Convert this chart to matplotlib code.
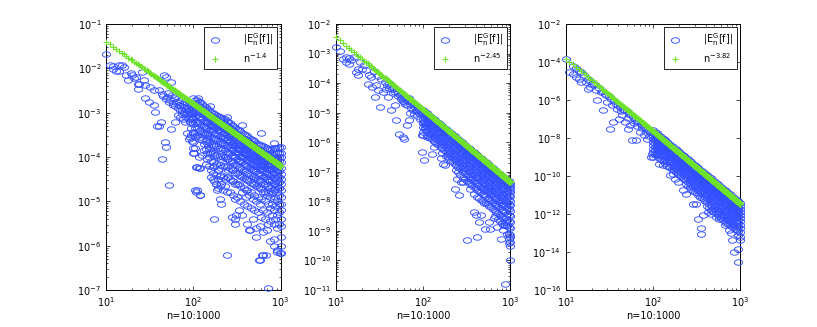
import numpy as np
import matplotlib
matplotlib.use("Agg")
import matplotlib.pyplot as plt
from matplotlib.path import Path
from matplotlib.markers import MarkerStyle
from matplotlib.ticker import LogLocator, NullLocator, FixedLocator, LogFormatterSciNotation

# ---------------- data ----------------
n_first, n_last = 10, 1000
rates = [1.4, 2.45, 3.82]
rate_labels = [r'$n^{-1.4}$', r'$n^{-2.45}$', r'$n^{-3.82}$']
err_label = r'$|E_n^G[f]|$'
xlabel = 'n=10:1000'
ylims = [(1e-7, 1e-1), (1e-11, 1e-2), (1e-16, 1e-2)]

# Panel 1: scattered points (n, log10 |E|)
p1_n = [10, 11, 12, 12, 13, 14, 14, 15, 16, 17, 18, 19, 20, 21, 22, 23, 23, 24, 26, 27, 28, 28,
        31, 32, 35, 35, 36, 38, 40, 40, 42, 44, 44, 46, 47, 48, 48, 50, 52, 53, 56, 56, 59, 61,
        66, 70, 74, 77, 81, 83, 87, 91, 95, 98, 102, 105,
        45, 49, 51, 54, 57, 58, 60, 62, 63, 64, 67, 68, 69, 71, 72, 73, 75, 76, 78, 79, 80, 82,
        84, 85, 86, 88, 89, 90, 92, 93, 94, 96, 97, 99,
        85, 88, 92, 95, 93, 94, 96, 100, 158, 148, 145, 148, 155,
        107, 115, 108, 118, 166, 170, 180, 185, 200, 210, 240, 300, 310, 410, 445, 560, 610,
        680, 725, 850, 900, 980,
        112, 155, 240, 363, 600, 850]
p1_e = [-1.68, -1.92, -2.01, -1.95, -2.05, -1.93, -2.05, -1.92, -1.97, -2.16, -2.27, -2.10,
        -2.14, -2.22, -2.20, -2.46, -2.35, -2.35, -2.08, -2.27, -2.67, -2.38,
        -2.76, -2.42, -2.83, -2.49, -2.98, -3.29, -3.30, -2.49, -3.21, -4.04, -2.57, -2.16,
        -3.66, -3.77, -2.20, -2.65, -4.64, -2.76, -2.31, -3.36, -2.83, -3.21,
        -3.06, -2.95, -3.02, -3.14, -3.21, -2.92, -3.06, -3.21, -3.02, -3.44, -3.92, -4.75,
        -2.62, -2.70, -2.55, -2.72, -2.60, -2.78, -2.68, -2.85, -2.75, -2.62, -2.90, -2.75,
        -2.82, -3.10, -2.85, -2.72, -2.95, -2.80, -2.88, -3.00, -2.75, -3.10,
        -2.85, -3.00, -2.90, -2.80, -3.15, -2.95, -3.00, -2.85, -3.10, -2.90, -3.15, -2.95,
        -3.45, -3.60, -3.55, -3.20, -3.35, -3.50, -3.65, -3.80, -3.30, -3.45, -3.60, -3.75, -3.90,
        -4.23, -4.25, -4.78, -4.86, -4.23, -4.50, -4.60, -4.75, -4.95, -5.05, -6.20, -5.40,
        -5.30, -5.50, -5.65, -6.33, -6.20, -6.20, -6.95, -6.00, -6.15, -6.17,
        -2.67, -2.85, -3.09, -3.27, -3.46, -3.69]
# Panel 1: dense region, one column of values per n
p1_col_n = [100, 105, 110, 115, 120, 126, 132, 138, 145, 151, 158, 166, 174, 182, 191, 200,
            209, 219, 229, 240, 251, 263, 275, 288, 302, 316, 331, 347, 363, 380, 398, 417,
            437, 457, 479, 501, 525, 550, 575, 603, 631, 661, 692, 724, 759, 794, 832, 871,
            912, 955, 1000]
p1_col_e = [
    [-2.68, -2.80, -2.90, -3.00, -3.12, -3.25, -3.45, -3.66, -3.92],
    [-2.72, -2.85, -2.96, -3.08, -3.20, -3.35, -3.55, -3.80],
    [-2.72, -2.80, -2.95, -3.05, -3.20, -3.35, -3.50, -4.23, -4.75],
    [-2.75, -2.86, -2.98, -3.10, -3.25, -3.42, -3.60, -4.00],
    [-2.76, -2.88, -3.00, -3.10, -3.22, -3.40, -3.55, -4.25, -4.86],
    [-2.80, -2.92, -3.03, -3.15, -3.28, -3.45, -3.62, -3.95],
    [-2.85, -2.95, -3.05, -3.18, -3.30, -3.45, -3.70, -3.85],
    [-2.88, -2.98, -3.08, -3.20, -3.32, -3.48, -3.65, -3.82, -4.15],
    [-2.92, -3.02, -3.10, -3.22, -3.35, -3.50, -3.68, -3.90, -4.05],
    [-2.95, -3.05, -3.15, -3.26, -3.38, -3.52, -3.66, -3.82, -4.00, -4.20],
    [-2.98, -3.08, -3.15, -3.28, -3.40, -3.55, -3.70, -3.88, -4.10, -4.30, -4.45],
    [-3.00, -3.10, -3.20, -3.30, -3.42, -3.56, -3.72, -3.90, -4.12, -4.35],
    [-3.02, -3.12, -3.22, -3.32, -3.45, -3.60, -3.75, -3.95, -4.20, -4.55, -5.39],
    [-3.05, -3.15, -3.25, -3.35, -3.47, -3.60, -3.76, -3.95, -4.15, -4.40, -4.62],
    [-3.08, -3.18, -3.28, -3.38, -3.50, -3.62, -3.80, -4.00, -4.30, -4.50, -4.70],
    [-3.10, -3.20, -3.30, -3.40, -3.52, -3.65, -3.80, -3.98, -4.18, -4.42, -4.65],
    [-3.12, -3.22, -3.32, -3.42, -3.55, -3.68, -3.85, -4.05, -4.25, -4.40, -4.60],
    [-3.14, -3.24, -3.34, -3.45, -3.56, -3.69, -3.83, -4.00, -4.20, -4.45, -4.75],
    [-3.15, -3.26, -3.36, -3.46, -3.58, -3.70, -3.85, -4.00, -4.20, -4.50, -4.65],
    [-3.18, -3.29, -3.40, -3.50, -3.61, -3.74, -3.88, -4.04, -4.22, -4.45, -4.80],
    [-3.20, -3.32, -3.42, -3.52, -3.62, -3.75, -3.90, -4.05, -4.30, -4.45],
    [-3.24, -3.35, -3.45, -3.55, -3.66, -3.78, -3.92, -4.08, -4.25, -4.50, -4.80],
    [-3.28, -3.38, -3.48, -3.58, -3.70, -3.82, -3.95, -4.10, -4.30, -4.55, -5.35],
    [-3.30, -3.41, -3.51, -3.61, -3.72, -3.84, -3.98, -4.12, -4.30, -4.55, -4.85],
    [-3.34, -3.45, -3.55, -3.65, -3.76, -3.88, -4.00, -4.15, -4.35, -4.60, -4.95, -5.50],
    [-3.36, -3.48, -3.58, -3.68, -3.79, -3.91, -4.04, -4.18, -4.36, -4.60, -4.90],
    [-3.40, -3.52, -3.62, -3.72, -3.82, -3.94, -4.08, -4.22, -4.40, -4.62, -5.20],
    [-3.42, -3.54, -3.64, -3.74, -3.85, -3.97, -4.10, -4.25, -4.42, -4.65, -5.00],
    [-3.45, -3.58, -3.68, -3.78, -3.88, -4.00, -4.12, -4.28, -4.45, -4.80, -5.30],
    [-3.48, -3.60, -3.70, -3.80, -3.91, -4.02, -4.15, -4.30, -4.48, -4.70, -5.05],
    [-3.50, -3.62, -3.72, -3.82, -3.94, -4.05, -4.18, -4.32, -4.50, -4.75, -4.90],
    [-3.53, -3.65, -3.75, -3.85, -3.96, -4.07, -4.20, -4.35, -4.52, -4.75, -5.10],
    [-3.56, -3.68, -3.78, -3.88, -4.00, -4.10, -4.22, -4.38, -4.55, -4.85, -5.65],
    [-3.59, -3.71, -3.81, -3.91, -4.02, -4.13, -4.25, -4.40, -4.58, -4.80, -5.15],
    [-3.62, -3.74, -3.84, -3.95, -4.05, -4.16, -4.28, -4.42, -4.60, -4.95, -5.40],
    [-3.65, -3.77, -3.87, -3.97, -4.08, -4.18, -4.30, -4.45, -4.62, -4.85, -5.20],
    [-3.68, -3.80, -3.90, -4.00, -4.10, -4.20, -4.32, -4.48, -4.65, -5.00, -5.60, -5.80],
    [-3.70, -3.82, -3.92, -4.02, -4.12, -4.23, -4.35, -4.50, -4.68, -4.90, -5.25],
    [-3.72, -3.85, -3.95, -4.05, -4.15, -4.26, -4.38, -4.52, -4.70, -5.05, -5.55, -6.33],
    [-3.74, -3.87, -3.97, -4.07, -4.17, -4.28, -4.40, -4.55, -4.72, -4.95, -5.35],
    [-3.76, -3.90, -4.00, -4.10, -4.20, -4.32, -4.44, -4.60, -4.80, -5.20, -5.70, -6.20],
    [-3.78, -3.92, -4.02, -4.12, -4.22, -4.34, -4.46, -4.60, -4.78, -5.00, -5.40],
    [-3.80, -3.95, -4.05, -4.15, -4.25, -4.36, -4.50, -4.66, -4.85, -5.25, -5.65],
    [-3.81, -3.96, -4.06, -4.17, -4.27, -4.39, -4.52, -4.66, -4.82, -5.05, -5.50],
    [-3.82, -3.98, -4.08, -4.20, -4.30, -4.42, -4.55, -4.70, -4.90, -5.15, -5.45, -5.90],
    [-3.82, -3.96, -4.06, -4.17, -4.28, -4.39, -4.52, -4.65, -4.82, -5.05, -5.30],
    [-3.80, -3.95, -4.05, -4.15, -4.26, -4.36, -4.48, -4.60, -4.75, -4.95, -5.20, -5.50, -5.85],
    [-3.80, -3.92, -4.02, -4.12, -4.23, -4.33, -4.45, -4.58, -4.72, -4.90, -5.10, -5.40],
    [-3.80, -3.90, -4.00, -4.10, -4.20, -4.30, -4.40, -4.52, -4.65, -4.80, -5.00, -5.30, -5.60, -6.10],
    [-3.78, -3.90, -4.00, -4.10, -4.20, -4.32, -4.44, -4.56, -4.70, -4.85, -5.05, -5.25, -5.50],
    [-3.77, -3.90, -4.00, -4.12, -4.25, -4.38, -4.50, -4.62, -4.75, -4.90, -5.05, -5.20, -5.40,
     -5.55, -5.80, -6.00, -6.17],
]

# Panel 2
p2_n = [10, 11, 12, 13, 14, 14, 15, 13, 17, 18, 18, 20, 22, 23, 24, 25, 26, 28, 29, 30, 32, 35,
        37, 39, 43, 47, 49, 53, 58, 60, 66, 69, 79, 85, 97, 98, 102,
        30, 33, 36, 38, 40, 41, 42, 44, 45, 46, 48, 50, 51, 52, 54, 55, 56, 57, 59, 61, 62, 63,
        64, 65, 67, 68, 70, 72, 73, 75, 76, 78, 80, 82, 84, 86, 88, 90, 92, 94, 96, 99, 60, 70,
        16, 19, 21, 27,
        105, 100, 110, 120, 132, 126, 158, 170, 178, 214, 245, 269, 234, 257, 288, 347, 380, 398,
        457, 437, 316, 417, 513, 562, 589, 646, 708, 776, 813, 871, 912, 955, 1000, 980, 870,
        990, 975]
p2_e = [-2.78, -2.92, -3.17, -3.29, -3.35, -3.15, -3.23, -3.11, -3.62, -3.74, -3.51, -3.51,
        -3.57, -4.02, -3.74, -3.79, -4.13, -4.47, -4.07, -4.24, -4.81, -4.30,
        -4.19, -4.47, -4.92, -4.75, -5.26, -5.71, -5.82, -5.88, -5.43, -5.26, -5.03, -4.92,
        -5.77, -6.32, -6.60,
        -3.75, -3.85, -3.95, -4.05, -4.00, -4.15, -4.10, -4.20, -4.35, -4.15, -4.30, -4.25,
        -4.45, -4.35, -4.40, -4.55, -4.35, -4.50, -4.60, -4.45, -4.70, -4.55,
        -4.50, -4.75, -4.60, -4.52, -4.70, -4.65, -4.85, -4.65, -4.90, -4.72, -4.80, -4.95,
        -4.78, -5.10, -4.85, -5.00, -5.20, -4.90, -5.05, -5.30, -4.65, -5.00,
        -3.10, -3.28, -3.40, -3.60,
        -5.48, -5.77, -5.82, -5.71, -6.16, -6.39, -6.55, -6.73, -6.78, -6.40, -7.23, -7.34,
        -7.57, -7.80, -7.34, -7.57, -8.36, -8.47,
        -8.47, -8.70, -9.32, -9.20, -8.92, -8.70, -8.92, -8.58, -8.87, -9.26, -8.98, -8.70,
        -8.81, -9.26, -9.37, -10.00, -10.80, -9.14, -9.42]
p2_col_n = p1_col_n
p2_col_e = [
    [-4.92, -5.02, -5.12, -5.24, -5.36, -5.50, -5.65],
    [-4.97, -5.07, -5.18, -5.30, -5.42, -5.56],
    [-5.02, -5.12, -5.22, -5.34, -5.46, -5.60, -5.75],
    [-5.07, -5.17, -5.28, -5.40, -5.52, -5.66, -5.80],
    [-5.12, -5.22, -5.32, -5.44, -5.56, -5.70, -5.85],
    [-5.17, -5.27, -5.38, -5.50, -5.62, -5.76, -5.90],
    [-5.21, -5.31, -5.42, -5.54, -5.66, -5.80, -5.95],
    [-5.26, -5.36, -5.47, -5.59, -5.71, -5.85, -6.00],
    [-5.31, -5.41, -5.52, -5.64, -5.76, -5.90, -6.05],
    [-5.36, -5.46, -5.57, -5.69, -5.81, -5.95, -6.10],
    [-5.41, -5.51, -5.62, -5.74, -5.86, -6.00, -6.15],
    [-5.46, -5.56, -5.67, -5.79, -5.91, -6.05, -6.20, -6.35],
    [-5.51, -5.61, -5.72, -5.84, -5.96, -6.10, -6.26],
    [-5.56, -5.66, -5.77, -5.89, -6.01, -6.15, -6.30, -6.45],
    [-5.61, -5.71, -5.82, -5.94, -6.06, -6.20, -6.36, -6.50],
    [-5.66, -5.76, -5.87, -5.99, -6.11, -6.25, -6.40, -6.56],
    [-5.70, -5.80, -5.91, -6.03, -6.16, -6.30, -6.46, -6.62],
    [-5.75, -5.85, -5.96, -6.08, -6.21, -6.35, -6.50, -6.68],
    [-5.80, -5.90, -6.01, -6.13, -6.26, -6.40, -6.56, -6.75],
    [-5.85, -5.95, -6.06, -6.18, -6.31, -6.45, -6.60, -6.78, -6.95],
    [-5.90, -6.00, -6.11, -6.23, -6.36, -6.50, -6.66, -6.85, -7.00],
    [-5.95, -6.05, -6.16, -6.28, -6.41, -6.55, -6.70, -6.88, -7.10],
    [-6.00, -6.10, -6.21, -6.33, -6.46, -6.60, -6.76, -6.95],
    [-6.05, -6.15, -6.26, -6.38, -6.51, -6.65, -6.81, -7.00, -7.20],
    [-6.10, -6.20, -6.31, -6.43, -6.56, -6.70, -6.86, -7.05, -7.25],
    [-6.15, -6.25, -6.36, -6.48, -6.61, -6.75, -6.91, -7.10, -7.30],
    [-6.19, -6.29, -6.40, -6.52, -6.65, -6.80, -6.96, -7.15, -7.35],
    [-6.24, -6.34, -6.45, -6.57, -6.70, -6.85, -7.01, -7.20, -7.40],
    [-6.29, -6.39, -6.50, -6.62, -6.75, -6.90, -7.06, -7.25, -7.45],
    [-6.34, -6.44, -6.55, -6.67, -6.80, -6.95, -7.11, -7.30, -7.50, -7.75],
    [-6.39, -6.49, -6.60, -6.72, -6.85, -7.00, -7.16, -7.35, -7.55],
    [-6.44, -6.54, -6.65, -6.77, -6.90, -7.05, -7.21, -7.40, -7.60, -7.85],
    [-6.49, -6.59, -6.70, -6.82, -6.95, -7.10, -7.26, -7.45, -7.65, -7.90],
    [-6.54, -6.64, -6.75, -6.87, -7.00, -7.15, -7.31, -7.50, -7.70, -7.95],
    [-6.59, -6.69, -6.80, -6.92, -7.05, -7.20, -7.36, -7.55, -7.75, -8.00],
    [-6.64, -6.74, -6.85, -6.97, -7.10, -7.25, -7.41, -7.60, -7.80, -8.05],
    [-6.68, -6.78, -6.89, -7.01, -7.14, -7.29, -7.45, -7.63, -7.83, -8.05],
    [-6.73, -6.83, -6.94, -7.06, -7.19, -7.34, -7.50, -7.68, -7.88, -8.10],
    [-6.78, -6.88, -6.99, -7.11, -7.24, -7.39, -7.55, -7.73, -7.93, -8.15],
    [-6.83, -6.93, -7.04, -7.16, -7.29, -7.44, -7.60, -7.78, -7.98, -8.20],
    [-6.88, -6.98, -7.09, -7.21, -7.34, -7.49, -7.65, -7.83, -8.03, -8.25],
    [-6.93, -7.03, -7.14, -7.26, -7.39, -7.54, -7.70, -7.88, -8.08, -8.30, -8.50],
    [-6.98, -7.08, -7.19, -7.31, -7.44, -7.59, -7.75, -7.93, -8.13, -8.35],
    [-7.03, -7.13, -7.24, -7.36, -7.49, -7.64, -7.80, -7.98, -8.18, -8.40, -8.60],
    [-7.08, -7.18, -7.29, -7.41, -7.54, -7.69, -7.85, -8.03, -8.23, -8.45, -8.65],
    [-7.13, -7.23, -7.34, -7.46, -7.59, -7.74, -7.90, -8.08, -8.28, -8.50, -8.72],
    [-7.17, -7.27, -7.38, -7.50, -7.63, -7.78, -7.94, -8.12, -8.32, -8.55, -8.80],
    [-7.22, -7.32, -7.43, -7.55, -7.68, -7.83, -7.99, -8.17, -8.37, -8.58, -8.80],
    [-7.27, -7.37, -7.48, -7.60, -7.73, -7.88, -8.04, -8.22, -8.42, -8.62, -8.85, -9.10],
    [-7.32, -7.42, -7.53, -7.65, -7.78, -7.93, -8.09, -8.27, -8.46, -8.66, -8.88, -9.10],
    [-7.37, -7.47, -7.58, -7.70, -7.83, -7.98, -8.14, -8.32, -8.50, -8.70, -8.90, -9.20, -9.50],
]

# Panel 3
p3_n = [10, 11, 12, 13, 14, 15, 17, 18, 19, 20, 22, 23, 25, 27, 28, 30, 32, 34, 35, 39, 41, 44,
        48, 52, 55, 57, 63, 71, 78, 85, 95, 97,
        12, 13, 14, 15, 16, 18, 19, 21, 24, 26, 29, 31, 33, 36, 38, 40, 42, 45, 47, 50, 53, 56,
        59, 62, 65, 68, 72, 75, 80, 83, 88, 92, 99, 43, 52, 60, 66, 74, 82, 90,
        100, 105, 110, 118, 129, 155, 170, 178, 192, 219, 240, 288, 309, 325, 372, 355, 427,
        460, 525, 575, 661, 724, 741, 813, 851, 933, 955, 1000, 776, 358, 617]
p3_e = [-3.86, -4.53, -4.61, -4.79, -4.88, -5.05, -5.05, -5.40, -5.32, -5.14, -5.49, -6.02,
        -5.58, -6.54, -5.67, -6.11, -7.51, -6.28, -7.16, -6.46, -6.98, -6.81,
        -7.16, -7.51, -7.33, -8.12, -8.12, -7.68, -7.86, -8.04, -9.00, -8.82,
        -4.20, -4.30, -4.45, -4.55, -4.70, -4.90, -4.98, -5.15, -5.35, -5.50, -5.72, -5.80,
        -5.95, -6.05, -6.20, -6.25, -6.35, -6.45, -6.55, -6.60, -6.75, -6.80,
        -6.90, -7.00, -7.10, -7.15, -7.25, -7.30, -7.40, -7.50, -7.55, -7.70, -7.75, -6.60,
        -6.95, -7.20, -7.35, -7.45, -7.70, -7.90,
        -9.00, -8.82, -8.47, -9.35, -9.44, -9.96, -9.88, -10.14, -10.32, -10.75, -10.93,
        -11.46, -11.46, -12.25, -12.07, -13.04, -11.90,
        -11.98, -12.16, -12.25, -12.60, -12.25, -12.86, -13.39, -14.00, -13.82, -14.53,
        -13.37, -13.00, -12.75, -12.14]
p3_col_n = p1_col_n
p3_col_e = [
    [-7.60, -7.75, -7.90, -8.05, -8.20, -8.38, -8.56, -8.75],
    [-7.68, -7.83, -7.98, -8.13, -8.28, -8.46, -8.64, -8.82],
    [-7.75, -7.90, -8.05, -8.20, -8.36, -8.54, -8.72, -8.90],
    [-7.83, -7.98, -8.13, -8.28, -8.44, -8.62, -8.80, -9.00],
    [-7.90, -8.05, -8.20, -8.35, -8.52, -8.70, -8.90, -9.10],
    [-7.98, -8.13, -8.28, -8.43, -8.59, -8.77, -8.96, -9.15],
    [-8.05, -8.20, -8.35, -8.50, -8.66, -8.84, -9.02, -9.20],
    [-8.13, -8.28, -8.43, -8.58, -8.74, -8.92, -9.10, -9.30],
    [-8.20, -8.36, -8.50, -8.66, -8.82, -9.00, -9.20, -9.45],
    [-8.29, -8.43, -8.58, -8.74, -8.90, -9.08, -9.26, -9.50],
    [-8.36, -8.50, -8.66, -8.82, -8.98, -9.16, -9.34, -9.55],
    [-8.44, -8.58, -8.74, -8.90, -9.06, -9.24, -9.42, -9.62],
    [-8.52, -8.66, -8.82, -8.97, -9.13, -9.30, -9.50, -9.70],
    [-8.59, -8.73, -8.89, -9.05, -9.21, -9.38, -9.58, -9.78],
    [-8.66, -8.80, -8.96, -9.12, -9.28, -9.46, -9.65, -9.85],
    [-8.75, -8.89, -9.04, -9.20, -9.36, -9.54, -9.73, -9.93],
    [-8.82, -8.96, -9.12, -9.27, -9.43, -9.60, -9.80, -10.00],
    [-8.90, -9.04, -9.20, -9.35, -9.51, -9.68, -9.88, -10.08],
    [-8.97, -9.12, -9.27, -9.42, -9.58, -9.76, -9.95, -10.15],
    [-9.05, -9.20, -9.35, -9.50, -9.66, -9.84, -10.03, -10.23, -10.40],
    [-9.12, -9.27, -9.42, -9.58, -9.74, -9.92, -10.10, -10.30, -10.50],
    [-9.20, -9.35, -9.50, -9.66, -9.82, -10.00, -10.18, -10.38, -10.60],
    [-9.28, -9.42, -9.58, -9.73, -9.90, -10.08, -10.26, -10.46, -10.70],
    [-9.36, -9.50, -9.66, -9.81, -9.98, -10.16, -10.34, -10.54, -10.78],
    [-9.43, -9.58, -9.73, -9.88, -10.05, -10.22, -10.40, -10.60, -10.85],
    [-9.51, -9.66, -9.81, -9.96, -10.13, -10.30, -10.48, -10.68, -10.92],
    [-9.58, -9.73, -9.88, -10.04, -10.20, -10.38, -10.56, -10.76, -11.00],
    [-9.66, -9.81, -9.96, -10.12, -10.28, -10.46, -10.64, -10.84, -11.08],
    [-9.74, -9.88, -10.04, -10.20, -10.36, -10.54, -10.72, -10.92, -11.15],
    [-9.82, -9.96, -10.12, -10.28, -10.44, -10.62, -10.80, -11.00, -11.22],
    [-9.89, -10.04, -10.20, -10.35, -10.52, -10.70, -10.88, -11.08, -11.30],
    [-9.97, -10.12, -10.27, -10.42, -10.59, -10.77, -10.95, -11.15, -11.38, -11.60],
    [-10.04, -10.19, -10.34, -10.50, -10.66, -10.84, -11.02, -11.22, -11.45, -11.70],
    [-10.12, -10.27, -10.42, -10.58, -10.74, -10.92, -11.10, -11.30, -11.52, -11.78],
    [-10.20, -10.34, -10.50, -10.66, -10.82, -11.00, -11.18, -11.38, -11.60, -11.85],
    [-10.27, -10.42, -10.57, -10.73, -10.90, -11.08, -11.26, -11.46, -11.68, -11.90],
    [-10.35, -10.50, -10.65, -10.80, -10.97, -11.15, -11.33, -11.53, -11.75, -11.95],
    [-10.43, -10.58, -10.73, -10.88, -11.05, -11.22, -11.40, -11.60, -11.82, -12.02],
    [-10.50, -10.65, -10.80, -10.96, -11.12, -11.30, -11.48, -11.68, -11.90, -12.10],
    [-10.58, -10.73, -10.88, -11.04, -11.20, -11.38, -11.56, -11.76, -11.98, -12.20],
    [-10.66, -10.80, -10.96, -11.12, -11.28, -11.46, -11.64, -11.84, -12.05, -12.30],
    [-10.73, -10.88, -11.03, -11.19, -11.35, -11.53, -11.71, -11.91, -12.12, -12.38],
    [-10.80, -10.95, -11.10, -11.26, -11.42, -11.60, -11.78, -11.98, -12.20, -12.45],
    [-10.89, -11.03, -11.18, -11.34, -11.50, -11.68, -11.86, -12.06, -12.28, -12.50],
    [-10.96, -11.10, -11.26, -11.42, -11.58, -11.76, -11.94, -12.14, -12.35, -12.55],
    [-11.04, -11.18, -11.33, -11.49, -11.65, -11.83, -12.01, -12.21, -12.42, -12.62],
    [-11.10, -11.25, -11.40, -11.56, -11.72, -11.90, -12.08, -12.28, -12.50, -12.70],
    [-11.19, -11.33, -11.48, -11.64, -11.80, -11.98, -12.16, -12.35, -12.56, -12.78],
    [-11.26, -11.40, -11.56, -11.72, -11.88, -12.05, -12.23, -12.42, -12.62, -12.85],
    [-11.34, -11.48, -11.64, -11.80, -11.96, -12.12, -12.30, -12.48, -12.68, -12.90, -13.10],
    [-11.42, -11.56, -11.72, -11.88, -12.04, -12.20, -12.38, -12.56, -12.75, -12.95, -13.20],
]

panels = [(p1_n, p1_e, p1_col_n, p1_col_e),
          (p2_n, p2_e, p2_col_n, p2_col_e),
          (p3_n, p3_e, p3_col_n, p3_col_e)]

# ---------------- styling ----------------
blue = '#3350ff'
green = '#6ee22a'
fs = 7
plt.rcParams['font.family'] = ['DejaVu Sans']
plt.rcParams['mathtext.default'] = 'regular'

circ = Path.unit_circle()
ell_marker = MarkerStyle(Path(circ.vertices * np.array([1.5, 1.0]), circ.codes))

fig = plt.figure(figsize=(8.17, 3.27), dpi=100)
lefts = [0.1300, 0.4113, 0.6926]
bottom, width, height = 0.1131, 0.2134, 0.8135

n_all = np.arange(n_first, n_last + 1)

for i, (sn, se, cn, ce) in enumerate(panels):
    ax = fig.add_axes([lefts[i], bottom, width, height])
    xs = list(sn)
    ys = list(se)
    for nv, col in zip(cn, ce):
        xs += [nv] * len(col)
        ys += list(col)
    xs = np.array(xs, dtype=float)
    ys = 10.0 ** np.array(ys)
    ax.plot(xs, ys, ls='none', marker=ell_marker, ms=5.9, mfc='none', mec=blue,
            mew=0.65, label=err_label, clip_on=False)
    ax.plot(n_all, n_all ** (-rates[i]), ls='none', marker='+', ms=4.3, mew=0.8,
            color=green, label=rate_labels[i], clip_on=False)
    ax.set_xscale('log')
    ax.set_yscale('log')
    ax.set_xlim(n_first, n_last)
    ax.set_ylim(*ylims[i])
    ax.xaxis.set_major_locator(FixedLocator([10, 100, 1000]))
    ax.xaxis.set_major_formatter(LogFormatterSciNotation())
    ax.xaxis.set_minor_locator(LogLocator(base=10, subs=np.arange(2, 10), numticks=20))
    lo, hi = np.log10(ylims[i])
    if i == 2:
        ax.yaxis.set_major_locator(FixedLocator([10.0 ** k for k in range(int(round(lo)), int(round(hi)) + 1, 2)]))
        ax.yaxis.set_minor_locator(NullLocator())
    else:
        ax.yaxis.set_major_locator(FixedLocator([10.0 ** k for k in range(int(round(lo)), int(round(hi)) + 1)]))
        ax.yaxis.set_minor_locator(LogLocator(base=10, subs=np.arange(2, 10), numticks=40))
    ax.yaxis.set_major_formatter(LogFormatterSciNotation())
    ax.tick_params(which='both', direction='in', top=True, right=True, labelsize=fs,
                   width=0.5, colors='black')
    ax.tick_params(which='major', length=3)
    ax.tick_params(which='minor', length=1.6)
    for sp in ax.spines.values():
        sp.set_linewidth(0.7)
        sp.set_color('black')
        sp.set_zorder(0.5)
    ax.set_xlabel(xlabel, fontsize=fs, labelpad=2)
    leg = ax.legend(loc='upper right', fontsize=fs, frameon=True, fancybox=False,
                    framealpha=1, edgecolor='black', handlelength=1.4, handletextpad=2.2,
                    borderpad=0.4, labelspacing=0.3, borderaxespad=0.35, markerscale=1.0)
    leg.get_frame().set_linewidth(0.6)
    leg.set_zorder(5)

fig.savefig('out.png', dpi=100)
